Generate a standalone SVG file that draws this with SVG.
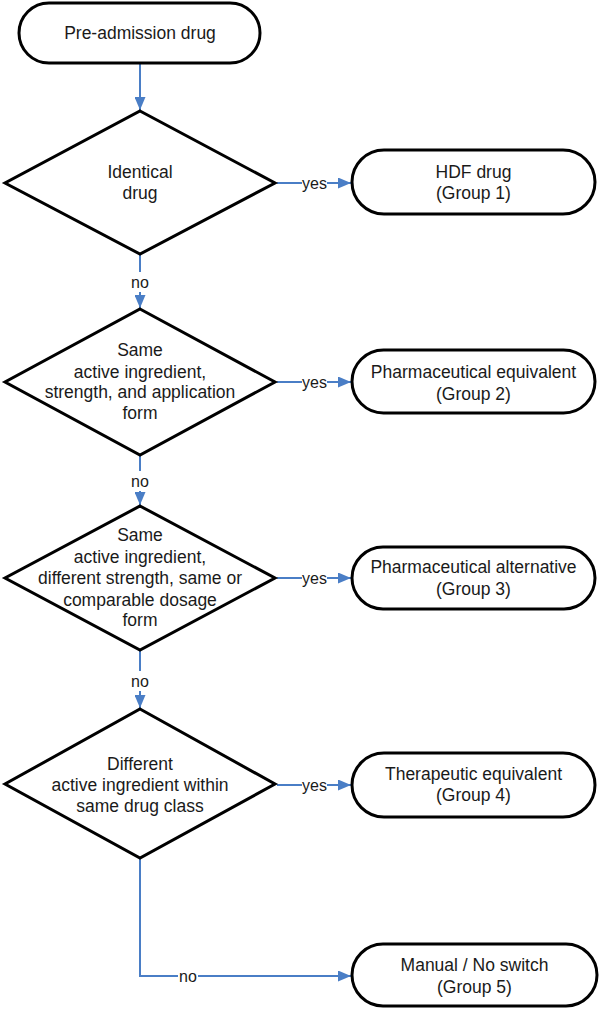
<svg xmlns="http://www.w3.org/2000/svg" width="600" height="1009" viewBox="0 0 600 1009">
<style>
.node{fill:#fff;stroke:#000;stroke-width:3;stroke-linejoin:miter}
.t{font-family:"Liberation Sans",Arial,sans-serif;font-size:17.5px;fill:#1a1a1a;text-anchor:middle}
.lbl{font-family:"Liberation Sans",Arial,sans-serif;font-size:16px;fill:#1a1a1a;text-anchor:middle}
.c{fill:none;stroke:#4a7ec6;stroke-width:2}
.bg{fill:#fff}
</style>
<defs>
<marker id="arr" markerUnits="userSpaceOnUse" markerWidth="13" markerHeight="11" refX="13" refY="5.5" orient="auto">
<path d="M0,0 L13,5.5 L0,11 z" fill="#4a7ec6"/>
</marker>
</defs>
<rect width="600" height="1009" fill="#fff"/>
<g id="connectors">
<line class="c" x1="140" y1="63" x2="140" y2="110" marker-end="url(#arr)"/>
<line class="c" x1="277" y1="183" x2="351" y2="183" marker-end="url(#arr)"/>
<line class="c" x1="140" y1="254" x2="140" y2="308" marker-end="url(#arr)"/>
<line class="c" x1="277" y1="382" x2="351" y2="382" marker-end="url(#arr)"/>
<line class="c" x1="140" y1="455" x2="140" y2="505" marker-end="url(#arr)"/>
<line class="c" x1="277" y1="578" x2="351" y2="578" marker-end="url(#arr)"/>
<line class="c" x1="140" y1="650" x2="140" y2="708" marker-end="url(#arr)"/>
<line class="c" x1="277" y1="785" x2="351" y2="785" marker-end="url(#arr)"/>
<path class="c" d="M140,858 V976 H351" marker-end="url(#arr)"/>
<rect class="bg" x="302" y="175" width="25" height="16"/><text class="lbl" x="314.5" y="188.5">yes</text>
<rect class="bg" x="302" y="374" width="25" height="16"/><text class="lbl" x="314.5" y="387.5">yes</text>
<rect class="bg" x="302" y="570" width="25" height="16"/><text class="lbl" x="314.5" y="583.5">yes</text>
<rect class="bg" x="302" y="777" width="25" height="16"/><text class="lbl" x="314.5" y="790.5">yes</text>
<rect class="bg" x="130" y="272" width="20" height="20"/><text class="lbl" x="140" y="287.5">no</text>
<rect class="bg" x="130" y="471" width="20" height="20"/><text class="lbl" x="140" y="486.5">no</text>
<rect class="bg" x="130" y="671" width="20" height="20"/><text class="lbl" x="140" y="686.5">no</text>
<rect class="bg" x="178" y="968" width="20" height="16"/><text class="lbl" x="188" y="981.5">no</text>
</g>
<g id="start">
<rect class="node" x="19" y="3" width="241" height="60" rx="30"/>
<text class="t" x="140" y="39">Pre-admission drug</text>
</g>
<g id="d1">
<polygon class="node" points="140,111 275,183 140,254 5,183"/>
<text class="t" x="140" y="178">Identical</text>
<text class="t" x="140" y="199">drug</text>
</g>
<g id="g1">
<rect class="node" x="352" y="150" width="243" height="64" rx="32"/>
<text class="t" x="473.5" y="178">HDF drug</text>
<text class="t" x="473.5" y="199">(Group 1)</text>
</g>
<g id="d2">
<polygon class="node" points="140,309 275,382 140,455 5,382"/>
<text class="t" x="140" y="356">Same</text>
<text class="t" x="140" y="377.5">active ingredient,</text>
<text class="t" x="140" y="398">strength, and application</text>
<text class="t" x="140" y="419">form</text>
</g>
<g id="g2">
<rect class="node" x="352" y="350" width="243" height="63" rx="31.5"/>
<text class="t" x="473.5" y="378">Pharmaceutical equivalent</text>
<text class="t" x="473.5" y="400">(Group 2)</text>
</g>
<g id="d3">
<polygon class="node" points="140,506 275,578 140,650 5,578"/>
<text class="t" x="140" y="541">Same</text>
<text class="t" x="140" y="562.5">active ingredient,</text>
<text class="t" x="140" y="584">different strength, same or</text>
<text class="t" x="140" y="605.5">comparable dosage</text>
<text class="t" x="140" y="625.5">form</text>
</g>
<g id="g3">
<rect class="node" x="352" y="547" width="243" height="62" rx="31"/>
<text class="t" x="473.5" y="573">Pharmaceutical alternative</text>
<text class="t" x="473.5" y="594.5">(Group 3)</text>
</g>
<g id="d4">
<polygon class="node" points="140,709 275,784 140,858 5,784"/>
<text class="t" x="140" y="769.5">Different</text>
<text class="t" x="140" y="791">active ingredient within</text>
<text class="t" x="140" y="812">same drug class</text>
</g>
<g id="g4">
<rect class="node" x="352" y="753" width="243" height="64" rx="32"/>
<text class="t" x="473.5" y="779.5">Therapeutic equivalent</text>
<text class="t" x="473.5" y="801">(Group 4)</text>
</g>
<g id="g5">
<rect class="node" x="352" y="944" width="245" height="62" rx="31"/>
<text class="t" x="474.5" y="971">Manual / No switch</text>
<text class="t" x="474.5" y="992.5">(Group 5)</text>
</g>
</svg>
